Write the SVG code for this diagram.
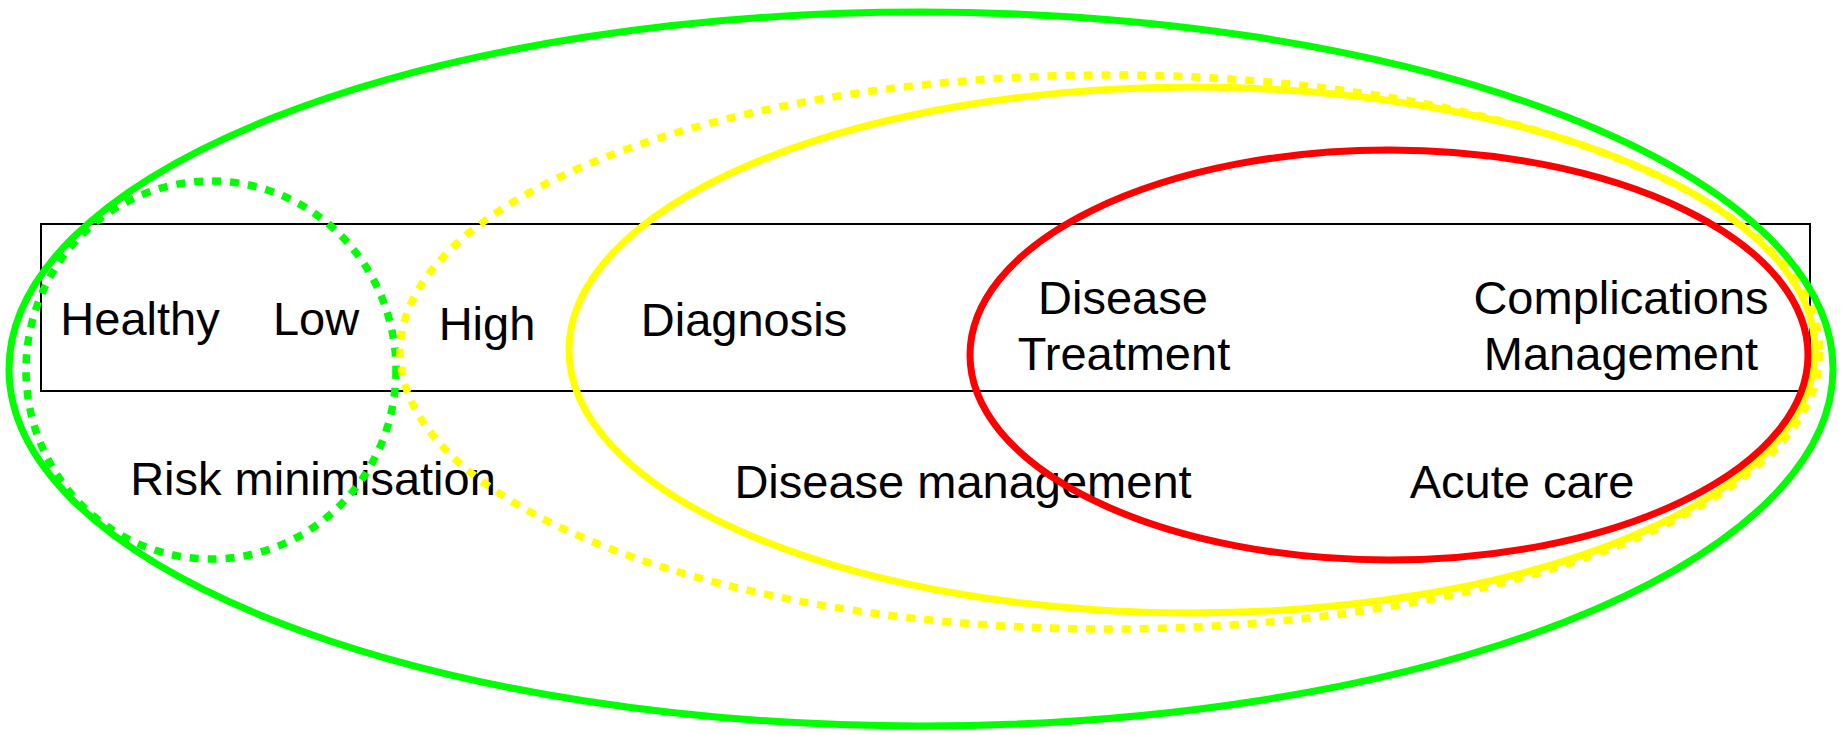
<svg xmlns="http://www.w3.org/2000/svg" width="1845" height="735" viewBox="0 0 1845 735">
<style>
text{font-family:"Liberation Sans",Arial,sans-serif;font-size:47px;fill:#000;text-anchor:middle}
.e{fill:none;stroke-width:7}
.d{stroke-dasharray:9 9;stroke-width:7.5}
.g{stroke:#00ff00}.y{stroke:#ffff00}.r{stroke:#ff0000}
</style>
<rect width="1845" height="735" fill="#fff"/>
<g id="stages">
<rect x="41" y="224" width="1769" height="167" fill="none" stroke="#000" stroke-width="2"/>
<text x="140" y="335">Healthy</text>
<text x="316" y="335">Low</text>
<text x="487" y="340">High</text>
<text x="744" y="336">Diagnosis</text>
<text x="1123" y="314">Disease</text>
<text x="1124" y="370">Treatment</text>
<text x="1621" y="314">Complications</text>
<text x="1621" y="370">Management</text>
</g>
<g id="labels">
<text x="313" y="495">Risk minimisation</text>
<text x="963" y="498">Disease management</text>
<text x="1522" y="498">Acute care</text>
</g>
<g id="risk-minimisation"><ellipse class="e g d" cx="211" cy="370" rx="185" ry="189"/></g>
<g id="high-risk"><ellipse class="e y d" cx="1110" cy="352" rx="710" ry="277"/></g>
<g id="disease-management"><ellipse class="e y" cx="1192" cy="350" rx="623" ry="263"/></g>
<g id="acute-care"><ellipse class="e r" cx="1389" cy="355" rx="419" ry="205"/></g>
<g id="whole-care"><ellipse class="e g" cx="921" cy="369" rx="912" ry="357"/></g>
<g id="connectors"></g>
</svg>
